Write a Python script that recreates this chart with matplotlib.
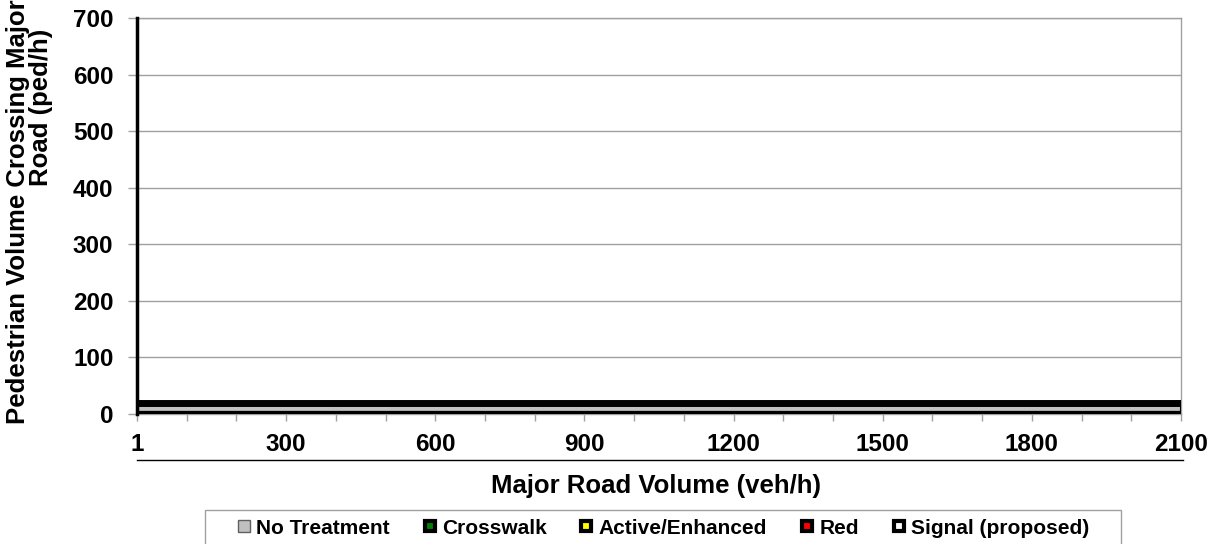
import matplotlib
matplotlib.use("Agg")
import matplotlib.pyplot as plt
from matplotlib.lines import Line2D
from matplotlib.patches import Rectangle
import numpy as np

plt.rcParams['font.family'] = ['Liberation Sans', 'DejaVu Sans']
plt.rcParams['font.weight'] = 'bold'

# ---- data ----
major_volume = [1, 100, 200, 300, 400, 500, 600, 700, 800, 900, 1000, 1100,
                1200, 1300, 1400, 1500, 1600, 1700, 1800, 1900, 2000, 2100]
no_treatment = [20] * 22
crosswalk = [0] * 22
active_enhanced = [0] * 22
red = [0] * 22
signal_proposed = [0] * 22
series_names = ["No Treatment", "Crosswalk", "Active/Enhanced", "Red", "Signal (proposed)"]
series_colors = ["#C0C0C0", "#008000", "#FFFF00", "#FF0000", "#FFFFFF"]
y_ticks = [0, 100, 200, 300, 400, 500, 600, 700]

W, H = 1216, 544
fig = plt.figure(figsize=(W / 100, H / 100), dpi=100)
ax = fig.add_axes([137 / W, 1 - 414 / H, (1181 - 137) / W, (414 - 18) / H])

x = np.arange(len(major_volume))
stack = np.vstack([no_treatment, crosswalk, active_enhanced, red, signal_proposed])
cum = np.cumsum(stack, axis=0)
base = np.zeros(len(x))
for i in range(stack.shape[0]):
    top = cum[i]
    ax.fill_between(x, base, top, color=series_colors[i], lw=0, zorder=2)
    base = top
# black outlines of the stacked areas
ax.plot(x, cum[-1], color='black', lw=5.0, zorder=3, solid_capstyle='butt')
ax.plot(x, np.zeros(len(x)), color='black', lw=4.5, zorder=3, solid_capstyle='butt')
ax.plot([x[-1], x[-1]], [0, cum[-1][-1]], color='black', lw=1.5, zorder=3)

ax.set_xlim(0, len(x) - 1)
ax.set_ylim(0, 700)
ax.set_yticks(y_ticks)
ax.set_yticklabels([str(v) for v in y_ticks], fontsize=17.5, fontweight='bold')
ax.set_xticks(x)
ax.set_xticklabels([str(v) if i % 3 == 0 else '' for i, v in enumerate(major_volume)],
                   fontsize=17.5, fontweight='bold')
ax.tick_params(axis='x', direction='out', length=5, width=1, color='#A0A0A0', pad=9)
ax.tick_params(axis='y', direction='out', length=6.5, width=1, color='#A0A0A0', pad=10.5)
ax.grid(axis='y', color='#A0A0A0', lw=1)
ax.set_axisbelow(True)
for s in ['top', 'right', 'bottom']:
    ax.spines[s].set_color('#A0A0A0')
    ax.spines[s].set_linewidth(1)
ax.spines['left'].set_color('black')
ax.spines['left'].set_linewidth(2.5)
ax.spines['left'].set_zorder(4)

# axis titles
fig.text(656 / W, 1 - 486 / H, "Major Road Volume (veh/h)", ha='center', va='center',
         fontsize=18.5, fontweight='bold')
fig.text(18 / W, 1 - 212 / H, "Pedestrian Volume Crossing Major",
         ha='center', va='center', rotation=90, fontsize=18.5, fontweight='bold')
fig.text(41 / W, 1 - 107 / H, "Road (ped/h)",
         ha='center', va='center', rotation=90, fontsize=18.5, fontweight='bold')

# thin line below tick labels
fig.add_artist(Line2D([137 / W, 1183 / W], [1 - 460 / H, 1 - 460 / H],
                      color='black', lw=1, transform=fig.transFigure))

# legend
handles = []
for i, (n, c) in enumerate(zip(series_names, series_colors)):
    if i == 0:
        h = Line2D([], [], ls='none', marker='s', markersize=8, markerfacecolor=c,
                   markeredgecolor='#606060', markeredgewidth=1, label=n)
    else:
        h = Line2D([], [], ls='none', marker='s', markersize=6.5, markerfacecolor=c,
                   markeredgecolor='black', markeredgewidth=3, label=n)
    handles.append(h)
fig.add_artist(Rectangle((205 / W, -0.05), (1121 - 205) / W, 0.05 + (544 - 510) / H,
                         transform=fig.transFigure, fill=False, edgecolor='#A0A0A0', lw=1))
leg = fig.legend(handles=handles, loc='center', bbox_to_anchor=(664 / W, 1 - 528 / H),
                 ncol=5, frameon=False, handlelength=0.5, handletextpad=0.35,
                 columnspacing=1.65, borderpad=0, prop={'weight': 'bold', 'size': 15})

fig.savefig("out.png", dpi=100)
